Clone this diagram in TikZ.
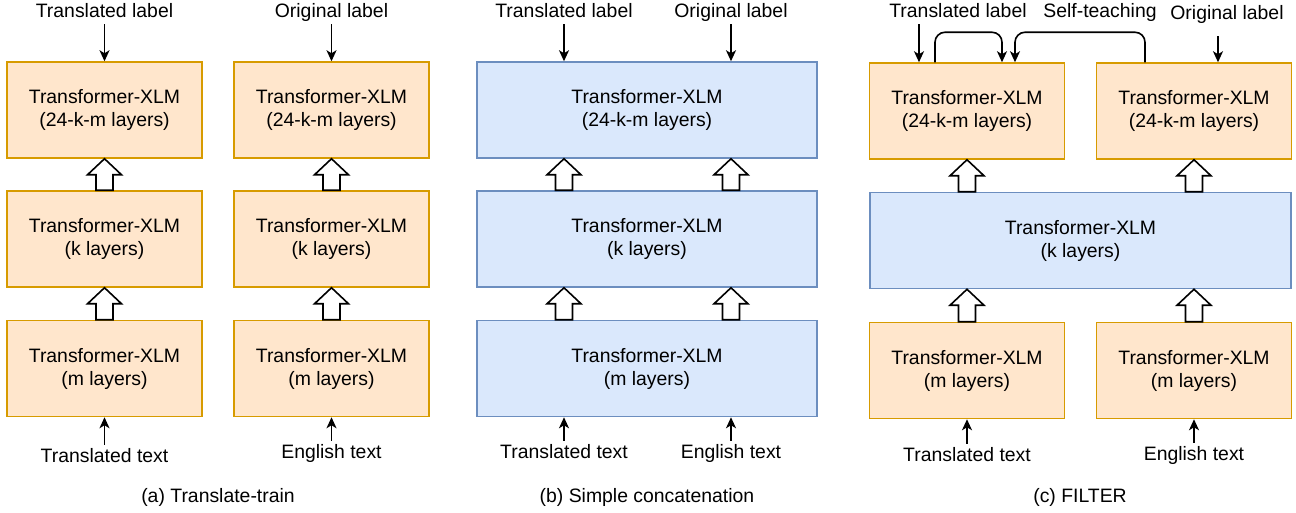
\documentclass[tikz,border=0pt]{standalone}
\usepackage{fontspec}
\setmainfont{Liberation Sans}
\usetikzlibrary{arrows.meta,calc}

\definecolor{orangefill}{HTML}{FFE6CC}
\definecolor{orangeline}{HTML}{D79B00}
\definecolor{bluefill}{HTML}{DAE8FC}
\definecolor{blueline}{HTML}{6C8EBF}

\tikzstyle{layer}=[rectangle,draw=orangeline,fill=orangefill,line width=1.5pt,minimum width=195pt,minimum height=96pt,align=center,font=\fontsize{19.4}{23}\selectfont]
\tikzstyle{shared layer}=[layer,draw=blueline,fill=bluefill]
\tikzstyle{io text}=[inner sep=3pt,text height=14pt,text depth=4pt,font=\fontsize{19.4}{23}\selectfont]
\tikzstyle{feed edge}=[draw,line width=1.6pt,-{Stealth[length=11pt,width=10pt,inset=3pt]}]
\tikzstyle{block edge}=[draw,line width=1.6pt,fill=white,to path={let \p1=(\tikztostart),\p2=(\tikztotarget) in (\x1-8.5pt,\y1) -- (\x1-8.5pt,\y2-16pt) -- (\x1-17pt,\y2-16pt) -- (\x1,\y2) -- (\x1+17pt,\y2-16pt) -- (\x1+8.5pt,\y2-16pt) -- (\x1+8.5pt,\y1) -- cycle}]

\begin{document}
\begin{tikzpicture}[x=1pt,y=-1pt]
	\useasboundingbox (0,0) rectangle (1296,512);
	% (a) translate-train
	\node[layer] (a1t) at (104.5,110) {Transformer-XLM\\(24-k-m layers)};
	\node[layer] (a1k) at (104.5,239) {Transformer-XLM\\(k layers)};
	\node[layer] (a1m) at (104.5,368.5) {Transformer-XLM\\(m layers)};
	\node[layer] (a2t) at (331.5,110) {Transformer-XLM\\(24-k-m layers)};
	\node[layer] (a2k) at (331.5,239) {Transformer-XLM\\(k layers)};
	\node[layer] (a2m) at (331.5,368.5) {Transformer-XLM\\(m layers)};
	\node[io text] (a1lab) at (104.5,12) {Translated label};
	\node[io text] (a2lab) at (331.5,12) {Original label};
	\node[io text] (a1txt) at (104.5,457) {Translated text};
	\node[io text] (a2txt) at (331.5,453) {English text};
	\node[io text] (acap) at (218,497) {(a) Translate-train};
	% (b) simple concatenation
	\node[shared layer,minimum width=340pt] (bt) at (647,110) {Transformer-XLM\\(24-k-m layers)};
	\node[shared layer,minimum width=340pt] (bk) at (647,239) {Transformer-XLM\\(k layers)};
	\node[shared layer,minimum width=340pt] (bm) at (647,368.5) {Transformer-XLM\\(m layers)};
	\node[io text] (blab1) at (564,12) {Translated label};
	\node[io text] (blab2) at (731,12) {Original label};
	\node[io text] (btxt1) at (564,453) {Translated text};
	\node[io text] (btxt2) at (731,453) {English text};
	\node[io text] (bcap) at (647,497) {(b) Simple concatenation};
	% (c) FILTER
	\node[layer] (ct1) at (967,111) {Transformer-XLM\\(24-k-m layers)};
	\node[layer] (ct2) at (1194,111) {Transformer-XLM\\(24-k-m layers)};
	\node[shared layer,minimum width=421pt] (ck) at (1080.5,240.5) {Transformer-XLM\\(k layers)};
	\node[layer] (cm1) at (967,370.5) {Transformer-XLM\\(m layers)};
	\node[layer] (cm2) at (1194,370.5) {Transformer-XLM\\(m layers)};
	\node[io text] (clab1) at (958,12) {Translated label};
	\node[io text] (cself) at (1100,12) {Self-teaching};
	\node[io text] (clab2) at (1227,14) {Original label};
	\node[io text] (ctxt1) at (967,456) {Translated text};
	\node[io text] (ctxt2) at (1194,455) {English text};
	\node[io text] (ccap) at (1080,497) {(c) FILTER};
	% Block arrows between the layers
	\foreach \source/\dest/\col in {a1m/a1k/a1k,a1k/a1t/a1t,a2m/a2k/a2k,a2k/a2t/a2t,bm/bk/blab1,bk/bt/blab1,bm/bk/blab2,bk/bt/blab2,cm1/ck/cm1,cm2/ck/cm2,ck/ct1/ct1,ck/ct2/ct2}
		\path[block edge] (\source.north -| \col) to (\dest.south -| \col);
	% Labels go in at the top, texts at the bottom
	\foreach \source/\dest in {a1lab/a1t,a2lab/a2t,blab1/bt,blab2/bt}
		\path[feed edge] (\source.south) -- (\source.south |- \dest.north);
	\foreach \source/\dest in {a1txt/a1m,a2txt/a2m,btxt1/bm,btxt2/bm,ctxt1/cm1,ctxt2/cm2}
		\path[feed edge] (\source.north) -- (\source.north |- \dest.south);
	\path[feed edge] ([xshift=-39pt]clab1.south) -- ([xshift=-48pt]ct1.north);
	\path[feed edge,shorten <=10pt] ([xshift=-9pt]clab2.south) -- ([xshift=24pt]ct2.north);
	% Self-teaching loops
	\path[feed edge,rounded corners=10pt] ([xshift=-32pt]ct1.north) -- ++(0,-30) -| ([xshift=35pt]ct1.north);
	\path[feed edge,rounded corners=10pt] ([xshift=-49pt]ct2.north) -- ++(0,-30) -| ([xshift=48pt]ct1.north);
\end{tikzpicture}
\end{document}
